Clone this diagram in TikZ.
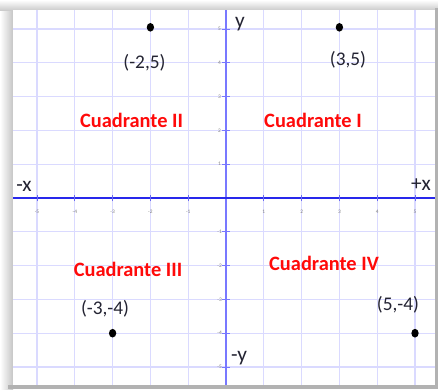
\documentclass[tikz,border=0pt]{standalone}
\usepackage{fontspec}
\setmainfont{Carlito}
\usetikzlibrary{shapes.geometric}
\definecolor{gridc}{RGB}{218,218,255}
\definecolor{xaxc}{RGB}{40,40,235}
\definecolor{yaxc}{RGB}{120,120,255}
\definecolor{qred}{RGB}{255,10,10}
\definecolor{txtc}{RGB}{35,35,50}
\begin{document}
\begin{tikzpicture}[x=0.75pt,y=-0.75pt,
  quad/.style={font=\fontsize{15.3}{18}\selectfont\bfseries, text=qred, inner sep=0},
  coordlbl/.style={font=\fontsize{14.5}{17}\selectfont, text=txtc, inner sep=0},
  axlbl/.style={font=\fontsize{16}{19}\selectfont, text=txtc, inner sep=0},
  ticklbl/.style={font=\fontsize{4}{5}\selectfont, text=gray, inner sep=0},
  pdot/.style={ellipse, fill=black, draw=none, minimum width=5.5pt, minimum height=6.5pt, inner sep=0}]
\useasboundingbox (0,0) rectangle (438,389);
% shadowed frame
\fill[gray!20] (0,0) rectangle (438,389);
\shade[left color=white, right color=gray!45] (0,0) rectangle (13,389);
\shade[top color=white, bottom color=gray!40] (0,0) rectangle (438,10);
\fill[gray!60] (435,8) rectangle (438,389);
\fill[gray!60] (8,385) rectangle (438,389);
\fill[white] (13,10) rectangle (435,385);
% grid and axes in graph units
\begin{scope}[shift={(226,198)}, x=28.35pt, y=25.35pt]
  \foreach \i in {-5,...,5} {
    \draw[gridc, line width=0.9pt] (\i,-5.53) -- (\i,5.56);
    \draw[gridc, line width=0.9pt] (-5.63,\i) -- (5.53,\i);
  }
  \draw[yaxc, line width=1.6pt] (0,-5.53) -- (0,5.56);
  \draw[xaxc, line width=1.8pt] (-5.63,0) -- (5.53,0);
  \foreach \i in {-5,...,-1,1,2,...,5} {
    \draw[xaxc!70, line width=0.5pt] (\i,-0.1) -- (\i,0.1);
    \draw[yaxc, line width=0.5pt] (-0.1,\i) -- (0.1,\i);
    \node[ticklbl] at (\i,-0.42) {\i};
    \node[ticklbl] at (-0.17,\i) {\i};
  }
  \node[pdot] (pA) at (-2,5.05) {};
  \node[pdot] (pB) at (3,5.05) {};
  \node[pdot] (pC) at (-3,-4) {};
  \node[pdot] (pD) at (5,-4) {};
\end{scope}
% coordinate labels
\node[coordlbl] (lA) at (144.5,63) {(-2,5)};
\node[coordlbl] (lB) at (348,60) {(3,5)};
\node[coordlbl] (lC) at (105,309) {(-3,-4)};
\node[coordlbl] (lD) at (398,305) {(5,-4)};
% quadrant labels
\node[quad] (q2) at (131.5,120) {Cuadrante II};
\node[quad] (q1) at (313,120) {Cuadrante I};
\node[quad] (q3) at (128,269) {Cuadrante III};
\node[quad] (q4) at (324,263) {Cuadrante IV};
% axis labels
\node[axlbl] (ay) at (240,24) {y};
\node[axlbl] (any) at (239,358) {-y};
\node[axlbl] (anx) at (24,186) {-x};
\node[axlbl] (apx) at (421,185) {+x};
\end{tikzpicture}
\end{document}
